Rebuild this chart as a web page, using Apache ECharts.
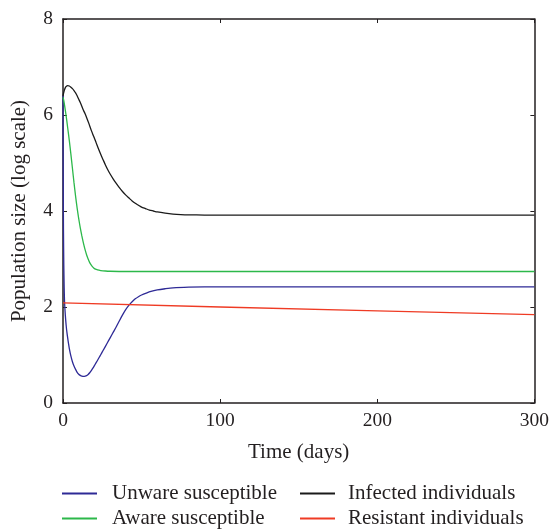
<!DOCTYPE html>
<html>
<head>
<meta charset="utf-8">
<script src="https://cdn.jsdelivr.net/npm/echarts@6/dist/echarts.min.js"></script>
<style>html,body{margin:0;padding:0;background:#fff}#c{width:552px;height:529px}</style>
</head>
<body>
<div id="c"></div>
<script>
var xTicks = [0, 100, 200, 300];
var yTicks = [0, 2, 4, 6, 8];
var seriesNames = ['Unware susceptible', 'Aware susceptible', 'Infected individuals', 'Resistant individuals'];

var tUnaware = [0, 0.1, 0.2, 0.3, 0.5, 0.75, 1, 1.5, 2, 2.5, 3, 3.5, 4, 5, 6, 7, 8, 9, 10, 11, 12, 13.5, 15, 16, 17, 18, 19, 20, 21, 22, 23, 24, 25, 26, 28, 30, 32, 34, 36, 38, 40, 42, 44, 46, 48, 50, 53, 56, 60, 65, 70, 80, 90, 150, 200, 250, 300];
var vUnaware = [6.4, 5.2, 4.3, 3.6, 2.9, 2.4, 2.1, 1.82, 1.62, 1.47, 1.35, 1.24, 1.14, 0.98, 0.86, 0.77, 0.7, 0.64, 0.6, 0.575, 0.56, 0.555, 0.57, 0.595, 0.63, 0.675, 0.725, 0.78, 0.835, 0.89, 0.948, 1.006, 1.064, 1.122, 1.24, 1.358, 1.476, 1.594, 1.72, 1.84, 1.95, 2.04, 2.11, 2.17, 2.215, 2.25, 2.29, 2.325, 2.355, 2.38, 2.4, 2.415, 2.42, 2.42, 2.42, 2.42, 2.42];

var tAware = [0, 0.5, 1, 2, 3, 4, 5, 6, 7, 8, 9, 10, 11, 12, 13, 14, 15, 16, 17, 18, 19, 20, 21, 22, 24, 27, 30, 40, 100, 200, 300];
var vAware = [6.37, 6.3, 6.2, 5.98, 5.73, 5.47, 5.19, 4.89, 4.59, 4.31, 4.06, 3.84, 3.65, 3.48, 3.33, 3.2, 3.09, 3.0, 2.925, 2.87, 2.83, 2.8, 2.785, 2.772, 2.76, 2.75, 2.745, 2.74, 2.74, 2.74, 2.74];

var tInfected = [0, 0.5, 1, 1.5, 2, 3, 4, 5, 6, 7, 8, 9, 10, 11, 12, 13, 14, 15, 16.5, 18, 19.5, 21, 22.5, 24, 25.5, 27, 28.5, 30, 32, 34, 36, 38, 40, 42, 44, 46, 48, 50, 52.5, 55, 57.5, 60, 65, 70, 75, 80, 90, 100, 200, 300];
var vInfected = [6.4, 6.47, 6.53, 6.57, 6.595, 6.612, 6.605, 6.58, 6.55, 6.51, 6.46, 6.4, 6.33, 6.26, 6.18, 6.1, 6.03, 5.95, 5.82, 5.68, 5.555, 5.43, 5.3, 5.18, 5.07, 4.96, 4.86, 4.77, 4.665, 4.57, 4.48, 4.4, 4.33, 4.27, 4.21, 4.16, 4.12, 4.08, 4.05, 4.02, 4.0, 3.98, 3.955, 3.937, 3.926, 3.92, 3.916, 3.915, 3.915, 3.915];

var tResistant = [0, 100, 200, 300];
var vResistant = [2.085, 2.0, 1.92, 1.84];

function pairs(t, v) { return t.map(function (x, i) { return [x, v[i]]; }); }

var colors = ['#2e2a96', '#2cb84a', '#1a1a1a', '#ef3b24'];
var axisColor = '#231f20';
var font = '"Liberation Serif", "DejaVu Serif", serif';

function mkSeries(name, t, v, c, sm) {
  return {
    name: name, type: 'line', data: pairs(t, v), symbol: 'none', showSymbol: false,
    smooth: sm,
    lineStyle: { color: c, width: 1.3 }, itemStyle: { color: c }
  };
}

var legendText = function (padL) {
  return { fontFamily: font, fontSize: 21, color: '#231f20', padding: [0, 0, 0, padL], lineHeight: 20 };
};

var chart = echarts.init(document.getElementById('c'), null, { renderer: 'canvas' });
chart.setOption({
  animation: false,
  backgroundColor: '#fff',
  grid: { left: 63, right: 14, top: 19, bottom: 126 },
  xAxis: [{
    type: 'value', min: 0, max: 300, interval: 100, position: 'bottom',
    name: 'Time (days)', nameLocation: 'middle', nameGap: 39,
    nameTextStyle: { fontFamily: font, fontSize: 21, color: '#231f20' },
    axisLine: { onZero: false, lineStyle: { color: axisColor, width: 1.5 } },
    axisTick: { inside: true, length: 4, lineStyle: { color: axisColor } },
    axisLabel: { fontFamily: font, fontSize: 19.5, color: '#231f20', margin: 8,
      formatter: function (v) { return xTicks.indexOf(v) >= 0 ? String(v) : ''; } },
    splitLine: { show: false }
  }, {
    type: 'value', min: 0, max: 300, interval: 100, position: 'top',
    axisLine: { show: true, onZero: false, lineStyle: { color: axisColor, width: 1.5 } },
    axisTick: { show: true, inside: true, length: 4, lineStyle: { color: axisColor } },
    axisLabel: { show: false }, splitLine: { show: false }
  }],
  yAxis: [{
    type: 'value', min: 0, max: 8, interval: 2, position: 'left',
    name: 'Population size (log scale)', nameLocation: 'middle', nameGap: 33,
    nameTextStyle: { fontFamily: font, fontSize: 21, color: '#231f20' },
    axisLine: { show: true, onZero: false, lineStyle: { color: axisColor, width: 1.5 } },
    axisTick: { show: true, inside: true, length: 4, lineStyle: { color: axisColor } },
    axisLabel: { fontFamily: font, fontSize: 19.5, color: '#231f20', margin: 10,
      formatter: function (v) { return yTicks.indexOf(v) >= 0 ? String(v) : ''; } },
    splitLine: { show: false }
  }, {
    type: 'value', min: 0, max: 8, interval: 2, position: 'right',
    axisLine: { show: true, onZero: false, lineStyle: { color: axisColor, width: 1.5 } },
    axisTick: { show: true, inside: true, length: 4, lineStyle: { color: axisColor } },
    axisLabel: { show: false }, splitLine: { show: false }
  }],
  legend: [{
    orient: 'vertical', left: 62, top: 483, padding: 0, height: 60,
    itemWidth: 35, itemHeight: 2, itemGap: 4,
    icon: 'rect', data: [seriesNames[0], seriesNames[1]],
    textStyle: legendText(10)
  }, {
    orient: 'vertical', left: 300, top: 483, padding: 0, height: 60,
    itemWidth: 35, itemHeight: 2, itemGap: 4,
    icon: 'rect', data: [seriesNames[2], seriesNames[3]],
    textStyle: legendText(8)
  }],
  series: [
    mkSeries(seriesNames[0], tUnaware, vUnaware, colors[0], 0.25),
    mkSeries(seriesNames[1], tAware, vAware, colors[1], 0.25),
    mkSeries(seriesNames[2], tInfected, vInfected, colors[2], 0.25),
    mkSeries(seriesNames[3], tResistant, vResistant, colors[3], false)
  ]
});
</script>
</body>
</html>
